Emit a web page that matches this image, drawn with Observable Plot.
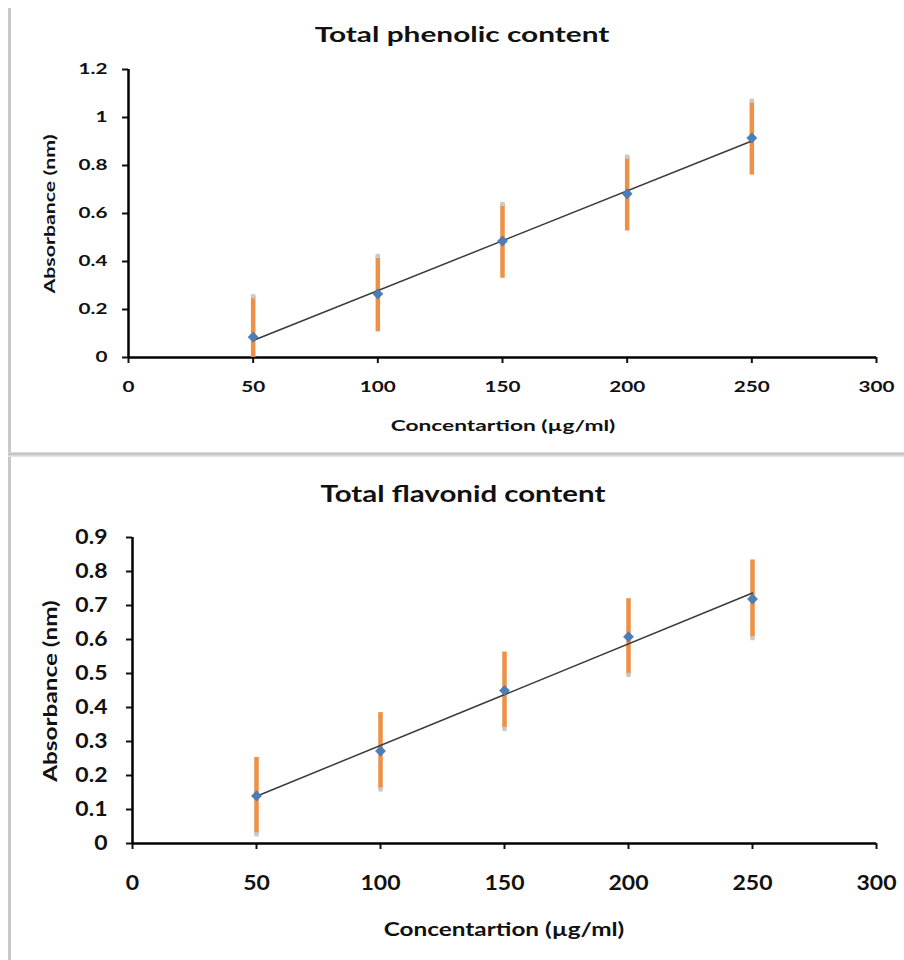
<!DOCTYPE html>
<html>
<head>
<meta charset="utf-8">
<script src="https://cdn.jsdelivr.net/npm/d3@7"></script>
<script src="https://cdn.jsdelivr.net/npm/@observablehq/plot@0.6"></script>
<style>
  html, body { margin: 0; padding: 0; background: #fff; }
  #page { position: relative; width: 904px; height: 960px; overflow: hidden; font-family: Lato, "Open Sans", sans-serif; color: #111; }
  .abs { position: absolute; white-space: nowrap; font-weight: bold; }
  .vline { position: absolute; left: 8px; width: 3px; background: #c8c8c8; }
  .hsep { position: absolute; left: 8px; right: 0; height: 5px; top: 452px; background: linear-gradient(#e2e2e2, #bdbdbd 40%, #d0d0d0 60%, #ececec); }
</style>
</head>
<body>
<div id="page">
  <div class="vline" style="top:8px;height:444px"></div>
  <div class="hsep"></div>
  <div class="vline" style="top:457px;height:503px"></div>
</div>
<script>
// ---- data ----
const concentrations = [50, 100, 150, 200, 250];

const phenolicAbsorbance = [0.085, 0.265, 0.485, 0.682, 0.915];
const phenolicError = [0.17, 0.158, 0.155, 0.155, 0.155];

const flavonoidAbsorbance = [0.14, 0.272, 0.45, 0.608, 0.719];
const flavonoidError = [0.113, 0.113, 0.113, 0.112, 0.115];

const xTicks = [0, 50, 100, 150, 200, 250, 300];
const phenolicYTicks = [0, 0.2, 0.4, 0.6, 0.8, 1, 1.2];
const flavonoidYTicks = [0, 0.1, 0.2, 0.3, 0.4, 0.5, 0.6, 0.7, 0.8, 0.9];

const titles = ["Total phenolic content", "Total flavonid content"];
const xLabel = "Concentartion (µg/ml)";
const yLabel = "Absorbance (nm)";

const page = document.getElementById("page");

function rows(values, errors) {
  return concentrations.map((c, i) => ({
    x: c, y: values[i],
    lo: Math.max(0, values[i] - errors[i]),
    hi: values[i] + errors[i]
  }));
}

function addText(cls, text, x, y, size, sx, rotate) {
  const d = document.createElement("div");
  d.className = "abs";
  d.textContent = text;
  d.style.left = x + "px";
  d.style.top = y + "px";
  d.style.fontSize = size + "px";
  d.style.transform = "translate(-50%, -50%)" + (rotate ? " rotate(-90deg)" : "") + " scaleX(" + sx + ")";
  page.appendChild(d);
}

function makeChart(opts) {
  const data = rows(opts.values, opts.errors);
  const fmt = d => String(+d.toFixed(1));
  const chart = Plot.plot({
    width: 904,
    height: opts.height,
    marginLeft: opts.ml,
    marginRight: 28,
    marginTop: opts.mt,
    marginBottom: opts.mb,
    style: { fontFamily: "Lato, 'Open Sans', sans-serif", fontSize: opts.tickFont + "px", fontWeight: "bold", color: "#111", background: "transparent", overflow: "visible" },
    x: { domain: [0, 300] },
    y: { domain: opts.yDomain },
    marks: [
      Plot.axisX({ ticks: xTicks, tickSize: 6, tickPadding: opts.xPad, strokeWidth: 2, label: null, tickFormat: d => String(d) }),
      Plot.axisY({ ticks: opts.yTicks, tickSize: 6, tickPadding: opts.yPad, strokeWidth: 2, label: null, tickFormat: fmt }),
      Plot.ruleY([0], { stroke: "#000", strokeWidth: 2.5 }),
      Plot.ruleX([0], { stroke: "#000", strokeWidth: 2.5 }),
      Plot.ruleX(data, { x: "x", y1: "lo", y2: "hi", stroke: "#EE9045", strokeWidth: 4.5 }),
      Plot.dot(data, { x: "x", y: opts.capEnd, symbol: "square", r: 2.4, fill: "#c9c9c9", stroke: "none" }),
      Plot.linearRegressionY(data, { x: "x", y: "y", ci: 0, stroke: "#3a3a3a", strokeWidth: 1.5 }),
      Plot.dot(data, { x: "x", y: "y", symbol: "diamond2", r: 4.6, fill: "#4A7EBB", stroke: "#3d6fa8", strokeWidth: 0.5 })
    ]
  });
  chart.style.position = "absolute";
  chart.style.left = "0px";
  chart.style.top = opts.top + "px";
  // widen tick label glyphs horizontally (the reference text is stretched)
  chart.querySelectorAll("text").forEach(t => {
    const tr = t.getAttribute("transform") || "";
    t.setAttribute("transform", tr + " scale(" + opts.tickScale + ",1)");
  });
  page.appendChild(chart);

  addText("title", opts.title, opts.titleX, opts.titleY, opts.titleFont, opts.textScale, false);
  addText("xlab", xLabel, opts.xlabX, opts.xlabY, opts.labFont, opts.textScale, false);
  addText("ylab", yLabel, opts.ylabX, opts.ylabY, opts.yLabFont, opts.textScale, true);
}

makeChart({
  values: phenolicAbsorbance, errors: phenolicError, yDomain: [0, 1.2], yTicks: phenolicYTicks,
  height: 445, top: 0, ml: 128, mt: 69, mb: 88,
  tickFont: 15, xPad: 18, yPad: 15, tickScale: 1.38,
  capEnd: "hi",
  title: titles[0], titleX: 462, titleY: 33, titleFont: 21, textScale: 1.42,
  xlabX: 503, xlabY: 424, labFont: 16,
  ylabX: 49, ylabY: 214, yLabFont: 15
});

makeChart({
  values: flavonoidAbsorbance, errors: flavonoidError, yDomain: [0, 0.9], yTicks: flavonoidYTicks,
  height: 500, top: 460, ml: 132, mt: 77, mb: 117,
  tickFont: 20, xPad: 26, yPad: 19, tickScale: 1.15,
  capEnd: "lo",
  title: titles[1], titleX: 463, titleY: 493, titleFont: 23, textScale: 1.28,
  xlabX: 504, xlabY: 928, labFont: 19,
  ylabX: 49, ylabY: 691, yLabFont: 19
});
</script>
</body>
</html>
